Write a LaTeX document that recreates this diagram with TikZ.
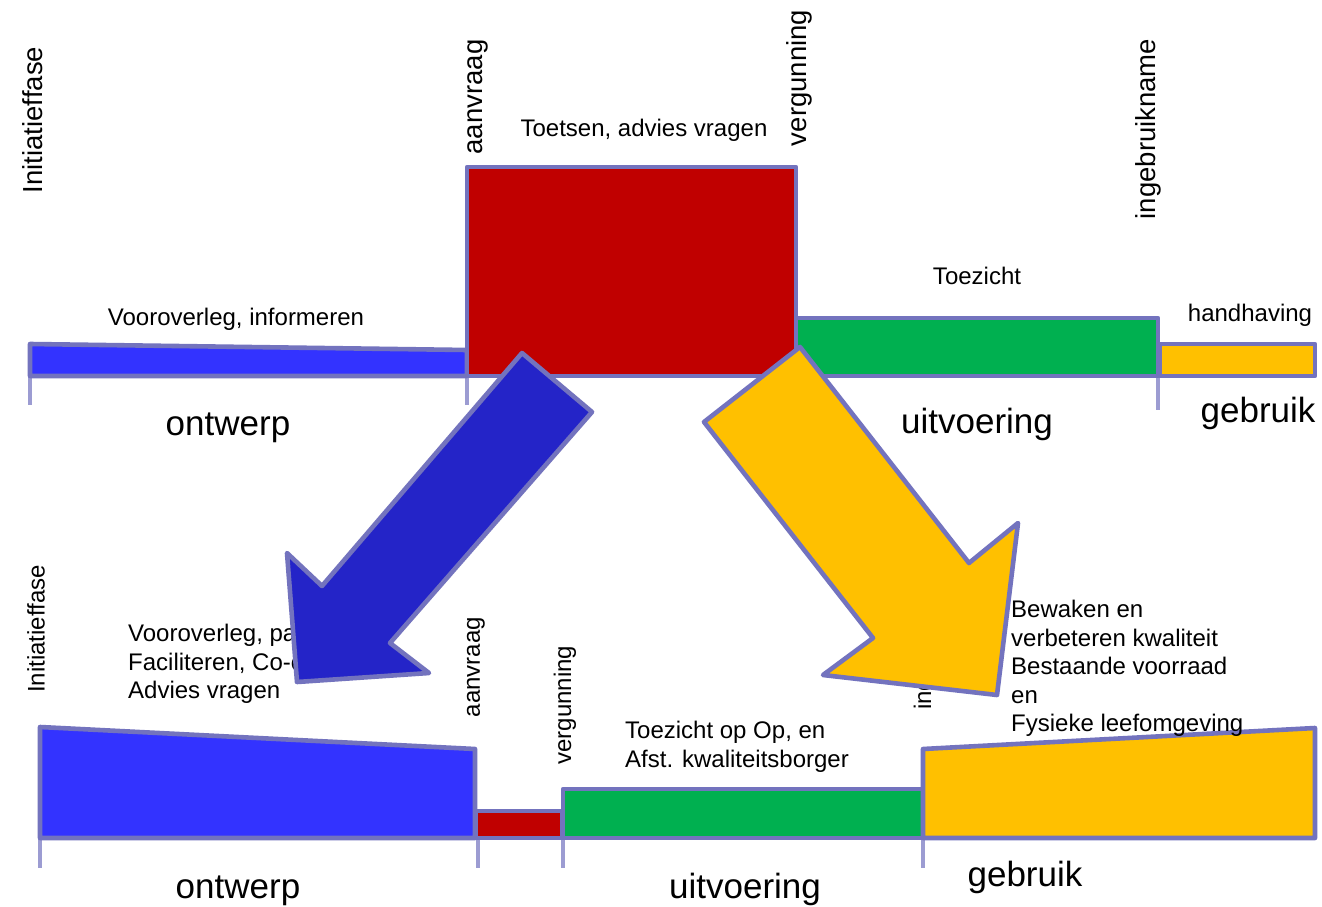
\documentclass[tikz,border=0pt]{standalone}
\usepackage{fontspec}
\setmainfont{Liberation Sans}
\definecolor{edge}{HTML}{7373BE}
\definecolor{tick}{HTML}{9C9CD2}
\definecolor{cblue}{HTML}{3333FF}
\definecolor{cdblue}{HTML}{2424C8}
\definecolor{cred}{HTML}{C00000}
\definecolor{cgreen}{HTML}{00B050}
\definecolor{cyellow}{HTML}{FFC000}
\tikzset{
  shapebox/.style={draw=edge, line width=4.6pt, line join=round},
  tickline/.style={draw=tick, line width=4.5pt},
  lbl/.style={inner sep=0pt, font=\fontsize{24}{28.5}\selectfont},
  vlbl/.style={inner sep=0pt, font=\fontsize{27.5}{30}\selectfont, rotate=90},
  vlbls/.style={inner sep=0pt, font=\fontsize{24}{28}\selectfont, rotate=90},
  big/.style={inner sep=0pt, font=\fontsize{35}{40}\selectfont},
  multi/.style={inner sep=0pt, align=left, anchor=north west, font=\fontsize{24}{28.6}\selectfont},
}
\begin{document}
\begin{tikzpicture}[x=1pt,y=-1pt]
\useasboundingbox (0,0) rectangle (1322,907);
\fill[white] (0,0) rectangle (1322,907);

% ---------- top bar ----------
\draw[tickline] (30,376) -- (30,405);
\draw[tickline] (467,376) -- (467,405);
\draw[tickline] (1158,376) -- (1158,410);
\draw[shapebox, fill=cblue] (30,344) -- (467,350) -- (467,376) -- (30,376) -- cycle;
\draw[shapebox, fill=cred] (467,167) rectangle (796,376);
\draw[shapebox, fill=cgreen] (796,318) rectangle (1158,376);
\draw[shapebox, fill=cyellow] (1160,344) rectangle (1315,376);

\node[vlbl] (t1) at (33,120) {Initiatieffase};
\node[vlbl] (t2) at (478,97) {aanvraag};
\node[vlbl] (t3) at (799,78) {vergunning};
\node[vlbl] (t4) at (1148,129) {ingebruikname};
\node[lbl] (t5) at (644,130) {Toetsen, advies vragen};
\node[lbl] (t6) at (236,319) {Vooroverleg, informeren};
\node[lbl] (t7) at (977,276) {Toezicht};
\node[lbl] (t8) at (1250,315) {handhaving};
\node[big] (t9) at (228,428) {ontwerp};
\node[big] (t10) at (977,424) {uitvoering};
\node[big] (t11) at (1258,413) {gebruik};

% ---------- bottom bar ----------
\draw[tickline] (40,838) -- (40,868);
\draw[tickline] (478,838) -- (478,868);
\draw[tickline] (563,838) -- (563,868);
\draw[tickline] (923,838) -- (923,868);
\draw[shapebox, fill=cblue] (40,727) -- (475,749) -- (475,838) -- (40,838) -- cycle;
\draw[shapebox, fill=cred] (476,811) rectangle (562,838);
\draw[shapebox, fill=cgreen] (563,789) rectangle (923,838);
\draw[shapebox, fill=cyellow] (923,749) -- (1315,728) -- (1315,838) -- (923,838) -- cycle;

\node[vlbls] (b1) at (36,629) {Initiatieffase};
\node[vlbls] (b2) at (476,667) {aanvraag};
\node[vlbls] (b3) at (565,705) {vergunning};
\node[vlbls, anchor=west] (b4) at (925,710) {ingebruikname};
\node[multi] (b5) at (128,624) {Vooroverleg, pa\\Faciliteren, Co-c\\Advies vragen};
\node[multi] (b6) at (625,721) {Toezicht op Op, en\\Afst. kwaliteitsborger};
\node[multi] (b7) at (1011,600) {Bewaken en\\verbeteren kwaliteit\\Bestaande voorraad\\en\\Fysieke leefomgeving};
\node[big] (b8) at (238,891) {ontwerp};
\node[big] (b9) at (745,889) {uitvoering};
\node[big] (b10) at (1025,877) {gebruik};

% ---------- arrows ----------
\draw[shapebox, fill=cdblue] (522,353) -- (592,412) -- (390,643) -- (429,673) -- (297,682) -- (287,553) -- (322,586) -- cycle;
\draw[shapebox, fill=cyellow] (800,347) -- (969,563) -- (1018,523) -- (997,695) -- (823,675) -- (873,638) -- (704,422) -- cycle;
\end{tikzpicture}
\end{document}
